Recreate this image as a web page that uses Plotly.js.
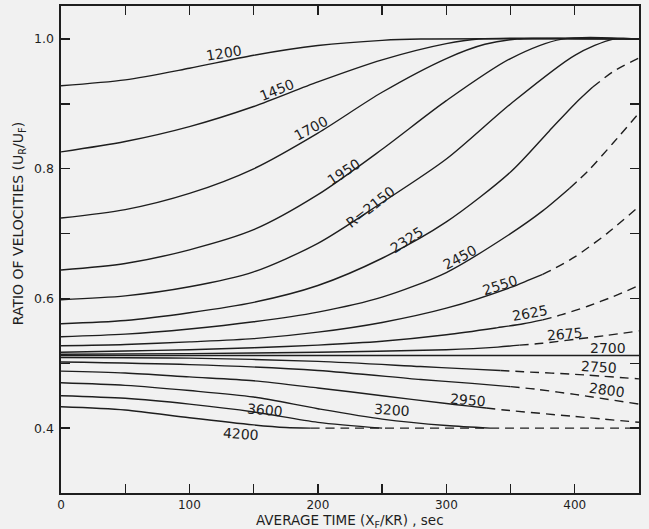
<!DOCTYPE html>
<html>
<head>
<meta charset="utf-8">
<script src="https://cdn.plot.ly/plotly-3.0.1.min.js"></script>
<style>
  html, body { margin: 0; padding: 0; background: #f1f1f1; }
  #chart { width: 649px; height: 529px; }
</style>
</head>
<body>
<div id="chart"></div>
<script>
// ---- Data ----
const x1200 = [0, 50, 100, 150, 200, 250, 280, 450];
const y1200 = [0.928, 0.937, 0.955, 0.975, 0.990, 0.998, 1.0, 1.0];

const x1450 = [0, 50, 100, 150, 200, 250, 300, 325, 450];
const y1450 = [0.826, 0.842, 0.865, 0.896, 0.934, 0.968, 0.993, 1.0, 1.0];

const x1700 = [0, 50, 100, 150, 200, 250, 300, 330, 355, 450];
const y1700 = [0.724, 0.737, 0.762, 0.800, 0.855, 0.918, 0.970, 0.992, 1.0, 1.0];

const x1950 = [0, 50, 100, 150, 200, 250, 300, 350, 390, 450];
const y1950 = [0.644, 0.654, 0.675, 0.706, 0.760, 0.830, 0.905, 0.970, 1.0, 1.0];

const x2150 = [0, 50, 100, 150, 200, 250, 300, 350, 400, 430, 450];
const y2150 = [0.598, 0.604, 0.618, 0.641, 0.685, 0.748, 0.815, 0.900, 0.975, 1.0, 1.0];

const x2325 = [0, 50, 100, 150, 200, 250, 300, 350, 380, 400, 414, 430, 450];
const y2325 = [0.561, 0.566, 0.578, 0.594, 0.620, 0.662, 0.718, 0.795, 0.858, 0.900, 0.926, 0.950, 0.971];

const x2450 = [0, 50, 100, 150, 200, 250, 300, 350, 375, 396, 410, 430, 450];
const y2450 = [0.541, 0.545, 0.553, 0.564, 0.579, 0.602, 0.640, 0.700, 0.735, 0.770, 0.796, 0.840, 0.886];

const x2550 = [0, 50, 100, 150, 200, 250, 300, 350, 365, 375, 385, 400, 425, 450];
const y2550 = [0.527, 0.529, 0.533, 0.538, 0.548, 0.563, 0.585, 0.617, 0.629, 0.637, 0.647, 0.664, 0.700, 0.742];

const x2625 = [0, 50, 100, 150, 200, 250, 300, 340, 360, 375, 390, 410, 430, 450];
const y2625 = [0.517, 0.519, 0.521, 0.524, 0.528, 0.534, 0.544, 0.555, 0.561, 0.567, 0.575, 0.588, 0.603, 0.620];

const x2675 = [0, 100, 200, 300, 340, 357, 375, 400, 425, 450];
const y2675 = [0.514, 0.515, 0.517, 0.521, 0.525, 0.528, 0.531, 0.537, 0.543, 0.550];

const x2700 = [0, 450];
const y2700 = [0.512, 0.512];

const x2750 = [0, 100, 200, 280, 320, 342, 360, 400, 450];
const y2750 = [0.509, 0.508, 0.503, 0.495, 0.491, 0.489, 0.487, 0.483, 0.476];

const x2800 = [0, 100, 200, 280, 320, 350, 370, 400, 450];
const y2800 = [0.502, 0.498, 0.489, 0.475, 0.469, 0.464, 0.460, 0.452, 0.437];

const x2950 = [0, 50, 100, 150, 200, 250, 300, 318, 331, 345, 400, 450];
const y2950 = [0.488, 0.485, 0.479, 0.473, 0.462, 0.450, 0.438, 0.434, 0.431, 0.428, 0.418, 0.409];

const x3200 = [0, 50, 100, 150, 200, 250, 300, 334];
const y3200 = [0.470, 0.466, 0.458, 0.448, 0.430, 0.414, 0.404, 0.400];

const x3600 = [0, 50, 100, 150, 200, 250];
const y3600 = [0.450, 0.446, 0.437, 0.425, 0.409, 0.400];

const x4200 = [0, 50, 100, 150, 175, 194, 220, 450];
const y4200 = [0.433, 0.428, 0.416, 0.405, 0.401, 0.400, 0.400, 0.400];

const curveNames = ['1200','1450','1700','1950','R=2150','2325','2450','2550','2625','2675','2700','2750','2800','2950','3200','3600','4200'];
const curveX = [x1200,x1450,x1700,x1950,x2150,x2325,x2450,x2550,x2625,x2675,x2700,x2750,x2800,x2950,x3200,x3600,x4200];
const curveY = [y1200,y1450,y1700,y1950,y2150,y2325,y2450,y2550,y2625,y2675,y2700,y2750,y2800,y2950,y3200,y3600,y4200];

// ---- Style: x value where each curve turns dashed (null = all solid) ----
const dashFrom = [null,null,null,null,null,414,396,375,375,357,null,342,350,331,null,null,194];

// ---- Label placement (data coords) and rotation ----
const labelPos = [
  [127, 0.979, -9], [168, 0.922, -22], [195, 0.863, -28], [220, 0.795, -33],
  [241, 0.741, -38], [269, 0.690, -33], [311, 0.664, -28], [342, 0.621, -18],
  [365, 0.578, -10], [392, 0.545, -5], [426, 0.524, 0], [419, 0.494, 3],
  [425, 0.459, 8], [317, 0.443, 5], [258, 0.428, 4], [159, 0.428, 5], [140, 0.391, 4]
];

const ink = '#1e1e1e';
const traces = [];
for (let i = 0; i < curveNames.length; i++) {
  const xs = curveX[i], ys = curveY[i], d = dashFrom[i];
  let sx = xs, sy = ys, dx = null, dy = null;
  if (d !== null) {
    const k = xs.indexOf(d);
    sx = xs.slice(0, k + 1); sy = ys.slice(0, k + 1);
    dx = xs.slice(k); dy = ys.slice(k);
  }
  traces.push({x: sx, y: sy, type: 'scatter', mode: 'lines', hoverinfo: 'skip',
    line: {color: ink, width: 1.4, shape: 'spline', smoothing: 0.8}});
  if (dx) {
    traces.push({x: dx, y: dy, type: 'scatter', mode: 'lines', hoverinfo: 'skip',
      line: {color: ink, width: 1.4, shape: 'spline', smoothing: 0.8, dash: '9px,6px'}});
  }
}

const fontFam = 'DejaVu Sans, sans-serif';
const annotations = curveNames.map((n, i) => ({
  x: labelPos[i][0], y: labelPos[i][1], xref: 'x', yref: 'y',
  text: n, showarrow: false, textangle: labelPos[i][2],
  font: {family: fontFam, size: 14, color: ink}
}));
// axis titles as annotations for exact placement
annotations.push({
  x: 225, xref: 'x', y: -0.058, yref: 'paper', yanchor: 'middle', borderpad: 0,
  text: 'AVERAGE TIME (X<sub>F</sub>/KR) , sec', showarrow: false,
  font: {family: fontFam, size: 13.5, color: ink}
});
annotations.push({
  x: -0.072, xref: 'paper', xanchor: 'center', y: 0.715, yref: 'y', yanchor: 'middle',
  text: 'RATIO OF VELOCITIES (U<sub>R</sub>/U<sub>F</sub>)', showarrow: false, textangle: -90,
  font: {family: fontFam, size: 14, color: ink}
});

const layout = {
  width: 649, height: 529, autosize: false,
  margin: {l: 61, r: 10, t: 6, b: 36, pad: 0},
  paper_bgcolor: '#f1f1f1', plot_bgcolor: '#f1f1f1',
  showlegend: false,
  font: {family: fontFam, size: 12, color: ink},
  xaxis: {
    range: [0, 450], showgrid: false, zeroline: false,
    showline: true, linecolor: ink, linewidth: 1.6, mirror: 'ticks',
    ticks: 'inside', ticklen: 9, tickwidth: 1.4, tickcolor: ink,
    tick0: 0, dtick: 100,
    minor: {dtick: 50, ticks: 'inside', ticklen: 9, tickwidth: 1.4, tickcolor: ink, showgrid: false},
    tickfont: {family: fontFam, size: 12, color: ink}
  },
  yaxis: {
    range: [0.3, 1.051], showgrid: false, zeroline: false,
    showline: true, linecolor: ink, linewidth: 1.6, mirror: 'ticks',
    ticks: 'inside', ticklen: 9, tickwidth: 1.4, tickcolor: ink,
    tick0: 0, dtick: 0.2, tickformat: '.1f', ticklabelstandoff: 3,
    minor: {dtick: 0.1, ticks: 'inside', ticklen: 9, tickwidth: 1.4, tickcolor: ink, showgrid: false},
    tickfont: {family: fontFam, size: 12.5, color: ink}
  },
  annotations: annotations
};

Plotly.newPlot('chart', traces, layout, {displayModeBar: false, staticPlot: true});
</script>
</body>
</html>
